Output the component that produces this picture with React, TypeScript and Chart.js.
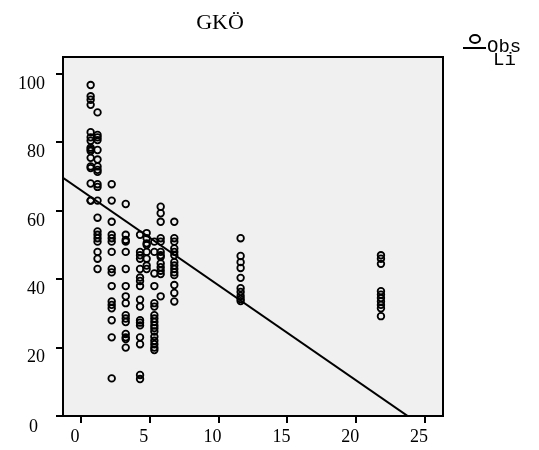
import React, { useEffect, useRef } from 'react';
import { Chart, registerables } from 'chart.js';

Chart.register(...registerables);

const titleText = 'GKÖ';
const legendLabels = ['Obs', 'Li'];
const xTickValues = [0, 5, 10, 15, 20, 25];
const yTickValues = [0, 20, 40, 60, 80, 100];
const xRange = [-1.31, 26.31];
const yRange = [0, 105];

// x positions of the observation columns
const xLevels = [0.7, 1.2, 2.23, 3.25, 4.29, 4.77, 5.33, 5.79, 6.78, 11.6, 21.8];

// observed values in each column
const obs0 = [96.8, 93.5, 92.5, 91, 83, 81.5, 80.5, 78.5, 78, 77.5, 75.5, 73, 72.5, 68, 63, 63];
const obs1 = [88.8, 82.2, 81.5, 80.7, 77.8, 75, 73, 72, 71.4, 67.8, 67, 63, 58, 54, 53, 52, 51, 48, 46, 43];
const obs2 = [67.8, 63, 56.8, 53, 52, 51, 48, 43, 42, 38, 33.5, 32.5, 31.5, 28, 23, 11];
const obs3 = [62, 53, 51.5, 51, 48, 43, 38, 35, 33, 29.5, 28.5, 27.5, 24, 23, 22.5, 20];
const obs4 = [53, 48, 47, 46, 43, 40.5, 39.5, 38, 34, 32, 28, 27.3, 26.5, 23, 21, 12, 10.8];
const obs5 = [53.5, 52, 50.5, 50, 48, 46, 44, 43];
const obs6 = [51, 48, 41.7, 38, 33, 32, 29.5, 28.5, 27.5, 26.5, 25.7, 24.7, 23.2, 22, 21, 20, 19.3];
const obs7 = [61.2, 59.3, 56.8, 52, 51, 48, 47, 46.5, 44.6, 43.5, 42.5, 41.5, 35];
const obs8 = [56.8, 52, 51, 49, 48, 47, 45, 44, 43, 42, 41.2, 38.3, 36, 33.5];
const obs9 = [52, 46.8, 45, 43.3, 40.4, 37.4, 36.3, 35.1, 34.2, 33.6];
const obs10 = [47, 46, 44.5, 36.5, 35.5, 34.5, 33.5, 32.5, 31.5, 29.2];

const obsColumns = [obs0, obs1, obs2, obs3, obs4, obs5, obs6, obs7, obs8, obs9, obs10];

// linear fit
const fitIntercept = 66.0;
const fitSlope = -2.78;

const serif = "'Liberation Serif', 'Times New Roman', serif";
const mono = "'Liberation Mono', 'Courier New', monospace";

export default function App() {
  const ref = useRef<HTMLCanvasElement | null>(null);

  useEffect(() => {
    if (!ref.current) return;
    const points: { x: number; y: number }[] = [];
    obsColumns.forEach((col, i) => {
      col.forEach((v) => points.push({ x: xLevels[i], y: v }));
    });
    const linePts = xRange.map((x) => ({ x, y: fitIntercept + fitSlope * x }));

    const decor = {
      id: 'decor',
      beforeDraw(chart: any) {
        const { ctx, chartArea: a } = chart;
        ctx.save();
        ctx.fillStyle = '#f0f0f0';
        ctx.fillRect(a.left, a.top, a.right - a.left, a.bottom - a.top);
        ctx.restore();
      },
      afterDraw(chart: any) {
        const { ctx, chartArea: a } = chart;
        ctx.save();
        ctx.strokeStyle = '#000';
        ctx.lineWidth = 2;
        ctx.strokeRect(a.left, a.top, a.right - a.left, a.bottom - a.top);
        // title
        ctx.fillStyle = '#000';
        ctx.font = `22px ${serif}`;
        ctx.textAlign = 'center';
        ctx.textBaseline = 'alphabetic';
        ctx.fillText(titleText, 220, 29);
        // y zero label
        ctx.font = `18px ${serif}`;
        ctx.textAlign = 'right';
        ctx.textBaseline = 'middle';
        ctx.fillText(String(yTickValues[0]), 38, 427);
        // legend
        ctx.beginPath();
        ctx.lineWidth = 2;
        ctx.ellipse(475, 39, 5, 4, 0, 0, Math.PI * 2);
        ctx.stroke();
        ctx.beginPath();
        ctx.lineWidth = 2;
        ctx.moveTo(463, 48);
        ctx.lineTo(486, 48);
        ctx.stroke();
        ctx.font = `19px ${mono}`;
        ctx.textAlign = 'left';
        ctx.textBaseline = 'alphabetic';
        ctx.fillText(legendLabels[0], 487, 52);
        ctx.fillText(legendLabels[1], 493, 65);
        ctx.restore();
      },
    };

    const chart = new Chart(ref.current, {
      type: 'scatter',
      data: {
        datasets: [
          {
            label: legendLabels[0],
            data: points,
            pointStyle: 'circle',
            pointRadius: 3.3,
            pointBorderWidth: 1.8,
            pointBorderColor: '#000',
            pointBackgroundColor: 'rgba(0,0,0,0)',
            showLine: false,
          },
          {
            label: legendLabels[1],
            type: 'line',
            data: linePts,
            borderColor: '#000',
            borderWidth: 2,
            pointRadius: 0,
            fill: false,
          } as any,
        ],
      },
      options: {
        animation: false,
        responsive: false,
        layout: { padding: { left: 0, top: 57, right: 96, bottom: 0 } },
        plugins: {
          legend: { display: false },
          title: { display: false },
          tooltip: { enabled: false },
        },
        scales: {
          x: {
            type: 'linear',
            min: xRange[0],
            max: xRange[1],
            afterBuildTicks: (s: any) => {
              s.ticks = xTickValues.map((v) => ({ value: v }));
            },
            afterFit: (s: any) => {
              s.height = 34;
            },
            grid: { drawOnChartArea: false, drawTicks: true, tickLength: 7, color: '#000', lineWidth: 2 },
            border: { display: true, color: '#000', width: 2 },
            ticks: {
              font: { family: serif, size: 18 },
              color: '#000',
              padding: 3,
              labelOffset: -6,
              maxRotation: 0,
              autoSkip: false,
            },
          },
          y: {
            type: 'linear',
            min: yRange[0],
            max: yRange[1],
            afterBuildTicks: (s: any) => {
              s.ticks = yTickValues.map((v) => ({ value: v }));
            },
            afterFit: (s: any) => {
              s.width = 63;
            },
            grid: { drawOnChartArea: false, drawTicks: true, tickLength: 7, color: '#000', lineWidth: 2 },
            border: { display: true, color: '#000', width: 2 },
            ticks: {
              font: { family: serif, size: 18 },
              color: '#000',
              padding: 11,
              labelOffset: 10,
              autoSkip: false,
              callback: (v: any) => (v === 0 ? '' : String(v)),
            },
          },
        },
      },
      plugins: [decor],
    });
    return () => chart.destroy();
  }, []);

  return (
    <div style={{ position: 'absolute', left: 0, top: 0, width: 539, height: 450, background: '#fff' }}>
      <canvas ref={ref} width={539} height={450} style={{ width: 539, height: 450, display: 'block' }} />
    </div>
  );
}
